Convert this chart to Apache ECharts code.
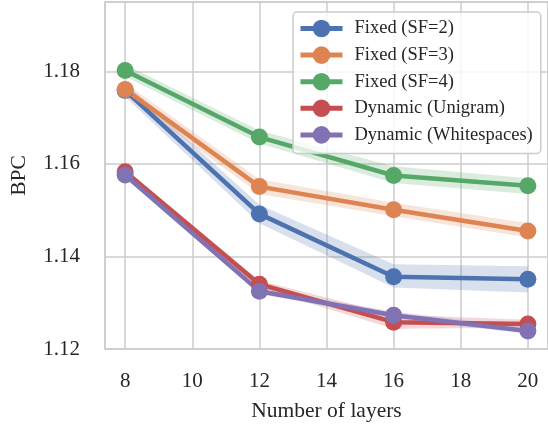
<!DOCTYPE html>
<html><head><meta charset="utf-8">
<script src="https://cdn.jsdelivr.net/npm/echarts@6/dist/echarts.min.js"></script>
<style>html,body{margin:0;padding:0;background:#fff}#c{width:548px;height:427px}</style>
</head><body><div id="c"></div>
<script>
const layers = [8, 12, 16, 20];
const names = ['Fixed (SF=2)', 'Fixed (SF=3)', 'Fixed (SF=4)', 'Dynamic (Unigram)', 'Dynamic (Whitespaces)'];
const colors = ['#4c72b0', '#dd8452', '#55a868', '#c44e52', '#8172b3'];
const sf2 = [1.1759, 1.1492, 1.1356, 1.1351];
const sf3 = [1.1761, 1.1551, 1.1501, 1.1455];
const sf4 = [1.1802, 1.1658, 1.1575, 1.1553];
const unigram = [1.1583, 1.1340, 1.1258, 1.1254];
const whitespaces = [1.1576, 1.1325, 1.1273, 1.1239];
const sf2Lo = [1.1745, 1.1472, 1.1333, 1.1322], sf2Hi = [1.1775, 1.1512, 1.1383, 1.1379];
const sf3Lo = [1.1748, 1.1535, 1.1487, 1.1441], sf3Hi = [1.1775, 1.1567, 1.1516, 1.1472];
const sf4Lo = [1.1789, 1.1644, 1.1559, 1.1535], sf4Hi = [1.1815, 1.1672, 1.1595, 1.1569];
const uniLo = [1.1575, 1.1332, 1.1244, 1.1246], uniHi = [1.1590, 1.1348, 1.1274, 1.1263];
const wsLo = [1.1570, 1.1319, 1.1266, 1.1233], wsHi = [1.1582, 1.1331, 1.1281, 1.1246];

const values = [sf2, sf3, sf4, unigram, whitespaces];
const lows = [sf2Lo, sf3Lo, sf4Lo, uniLo, wsLo];
const highs = [sf2Hi, sf3Hi, sf4Hi, uniHi, wsHi];

const FONT = 'Liberation Serif';
const TXT = '#262626';

function band(i) {
  const lo = lows[i], hi = highs[i];
  return {
    type: 'custom', name: 'band' + i, z: 1, silent: true,
    data: layers.map((x, k) => [x, lo[k], hi[k]]),
    encode: { x: 0, y: [1, 2] },
    renderItem: function (params, api) {
      if (params.dataIndex !== 0) return null;
      const pts = [];
      for (let k = 0; k < layers.length; k++) pts.push(api.coord([layers[k], hi[k]]));
      for (let k = layers.length - 1; k >= 0; k--) pts.push(api.coord([layers[k], lo[k]]));
      return { type: 'polygon', shape: { points: pts }, style: { fill: colors[i], opacity: 0.22 } };
    }
  };
}
function line(i) {
  return {
    type: 'line', name: names[i], z: 3,
    data: layers.map((x, k) => [x, values[i][k]]),
    symbol: 'circle', symbolSize: 17, showAllSymbol: true,
    lineStyle: { width: 4.5, color: colors[i] },
    itemStyle: { color: colors[i] },
    emphasis: { disabled: true }
  };
}
const series = [];
for (let i = 0; i < 5; i++) series.push(band(i));
for (let i = 0; i < 5; i++) series.push(line(i));

const chart = echarts.init(document.getElementById('c'));
chart.setOption({
  animation: false,
  backgroundColor: '#fff',
  textStyle: { fontFamily: FONT },
  grid: { left: 102, top: 2, right: -3, bottom: 77, show: true, borderColor: '#cccccc', borderWidth: 1.5, backgroundColor: '#fff' },
  legend: {
    data: names, orient: 'vertical', left: 293, top: 12,
    itemWidth: 42, itemHeight: 22, itemGap: 7.6,
    padding: [7, 8, 9, 5],
    borderColor: '#cccccc', borderWidth: 1.5, borderRadius: 4,
    backgroundColor: 'rgba(255,255,255,0.8)',
    lineStyle: { width: 5 },
    textStyle: { fontFamily: FONT, fontSize: 18.5, color: TXT, padding: [0, 0, 0, 7] }
  },
  xAxis: {
    type: 'value', min: 7.4, max: 20.6, minInterval: 2, maxInterval: 2,
    name: 'Number of layers', nameLocation: 'middle', nameGap: 51,
    nameTextStyle: { fontFamily: FONT, fontSize: 21.5, color: TXT },
    axisLine: { show: false }, axisTick: { show: false },
    axisLabel: { fontFamily: FONT, fontSize: 21, color: TXT, margin: 22, showMinLabel: false, showMaxLabel: false },
    splitLine: { show: true, lineStyle: { color: '#cccccc', width: 1.5 } }
  },
  yAxis: {
    type: 'value', min: 1.12, max: 1.195, minInterval: 0.02, maxInterval: 0.02,
    name: 'BPC', nameLocation: 'middle', nameGap: 75,
    nameTextStyle: { fontFamily: FONT, fontSize: 21.5, color: TXT },
    axisLine: { show: false }, axisTick: { show: false },
    axisLabel: { fontFamily: FONT, fontSize: 21, color: TXT, margin: 25, showMaxLabel: false,
      formatter: v => v.toFixed(2) },
    splitLine: { show: true, lineStyle: { color: '#cccccc', width: 1.5 } }
  },
  series: series
});
</script>
</body></html>
